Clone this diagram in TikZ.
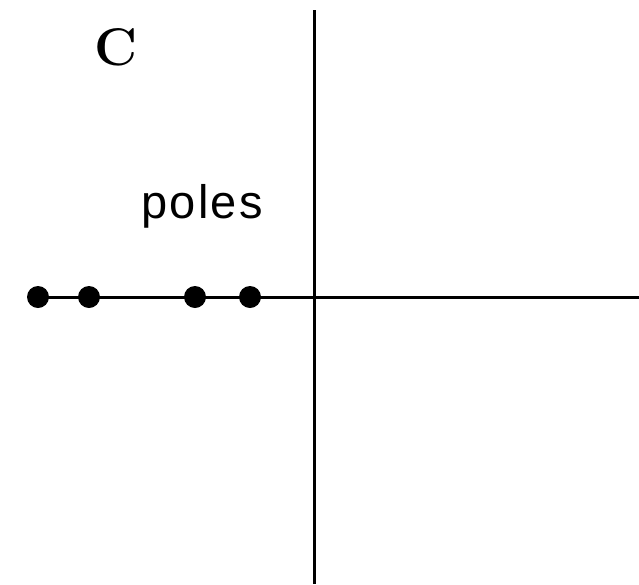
\documentclass[tikz,border=0pt]{standalone}
\usepackage{fontspec}
\newfontfamily\labelfont[LetterSpace=5]{Liberation Sans}
\begin{document}
\begin{tikzpicture}[x=1pt,y=-1pt,
  axis/.style={line width=3pt},
  pole/.style={circle,fill=black,inner sep=0pt,minimum size=22pt}]
\useasboundingbox (0,0) rectangle (639,584);
\coordinate (vt) at (314,10);
\coordinate (vb) at (314,584);
\coordinate (hl) at (38,297);
\coordinate (hr) at (639,297);
\draw[axis] (vt) -- (vb);
\draw[axis] (hl) -- (hr);
\node[pole] (p1) at (38,297) {};
\node[pole] (p2) at (89,297) {};
\node[pole] (p3) at (195,297) {};
\node[pole] (p4) at (250,297) {};
\node[anchor=base,inner sep=0pt] (C) at (116,65) {\fontsize{53}{60}\selectfont\textbf{C}};
\node[anchor=base west,inner sep=0pt] (poles) at (141,218) {\labelfont\fontsize{47}{56}\selectfont poles};
\end{tikzpicture}
\end{document}
